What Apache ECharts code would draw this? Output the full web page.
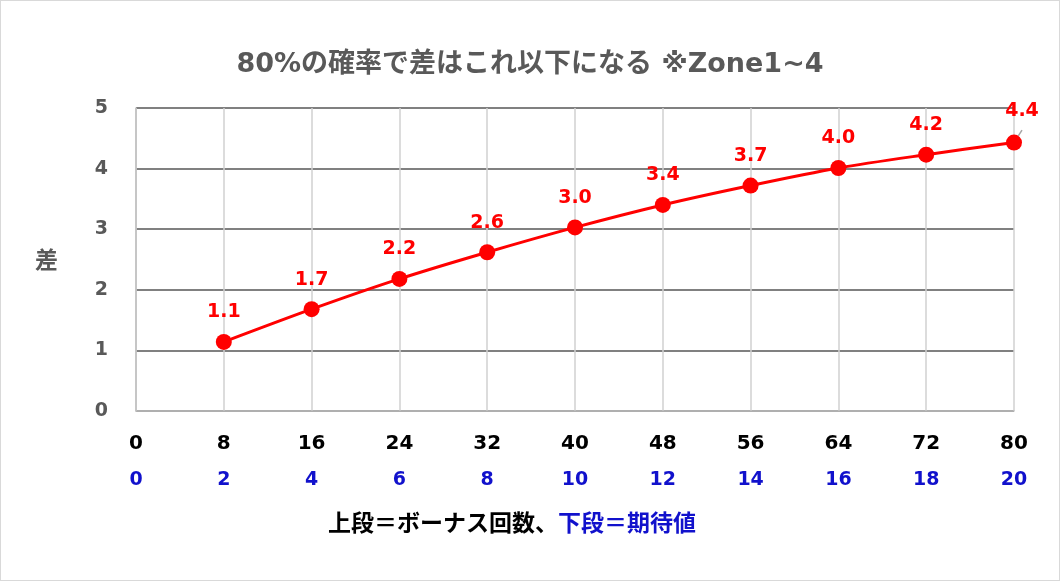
<!DOCTYPE html>
<html>
<head>
<meta charset="utf-8">
<script src="https://cdn.jsdelivr.net/npm/echarts@6/dist/echarts.min.js"></script>
<style>
html,body{margin:0;padding:0;background:#fff;}
#chart{width:1058px;height:579px;border:1px solid #d9d9d9;}
</style>
</head>
<body>
<div id="chart"></div>
<script>
const bonusCounts = [8, 16, 24, 32, 40, 48, 56, 64, 72, 80];
const diffValues = [1.14, 1.68, 2.18, 2.62, 3.03, 3.40, 3.72, 4.01, 4.23, 4.43];
const upperTicks = [0, 8, 16, 24, 32, 40, 48, 56, 64, 72, 80];
const lowerTicks = [0, 2, 4, 6, 8, 10, 12, 14, 16, 18, 20];
const yTicks = [0, 1, 2, 3, 4, 5];

const FONT = '"DejaVu Sans", "Noto Sans CJK JP", sans-serif';
const JFONT = '"Noto Sans CJK JP", "DejaVu Sans", sans-serif';
const chart = echarts.init(document.getElementById('chart'));

const seriesData = bonusCounts.map((x, i) => {
  const item = { value: [x, diffValues[i]] };
  if (i === bonusCounts.length - 1) {
    item.label = { offset: [8, -2] };
    item.labelLine = { show: true, lineStyle: { color: '#a6a6a6', width: 1.5 } };
  }
  return item;
});

chart.setOption({
  animation: false,
  textStyle: { fontFamily: FONT },
  title: {
    text: '80%の確率で差はこれ以下になる ※Zone1~4',
    left: 'center',
    top: 45,
    textStyle: { fontFamily: FONT, fontSize: 27, fontWeight: 'bold', color: '#595959' }
  },
  grid: { left: 135, right: 45, top: 107, bottom: 169 },
  xAxis: {
    type: 'value',
    min: 0, max: 80, interval: 8,
    axisLine: { show: true, lineStyle: { color: '#bfbfbf', width: 1.5 } },
    axisTick: { show: false },
    splitLine: { show: true, lineStyle: { color: '#d0d0d0', width: 1.5 } },
    axisLabel: {
      margin: 15,
      formatter: v => {
        const i = upperTicks.indexOf(v);
        return '{a|' + upperTicks[i] + '}\n{b|' + lowerTicks[i] + '}';
      },
      rich: {
        a: { fontFamily: FONT, fontSize: 20, fontWeight: 'bold', color: '#000', lineHeight: 36 },
        b: { fontFamily: FONT, fontSize: 19, fontWeight: 'bold', color: '#1111cc', lineHeight: 36 }
      }
    }
  },
  yAxis: {
    type: 'value',
    min: 0, max: 5, interval: 1,
    name: '差',
    nameLocation: 'middle',
    nameRotate: 0,
    nameGap: 78,
    nameTextStyle: { fontFamily: JFONT, fontSize: 23, fontWeight: 'bold', color: '#595959' },
    axisLine: { show: true, lineStyle: { color: '#bfbfbf', width: 1.5 } },
    axisTick: { show: false },
    splitLine: { show: true, lineStyle: { color: '#808080', width: 2 } },
    axisLabel: {
      margin: 28,
      formatter: v => String(yTicks[yTicks.indexOf(v)]),
      fontFamily: FONT, fontSize: 19, fontWeight: 'bold', color: '#595959'
    }
  },
  graphic: [{
    type: 'text',
    left: 327,
    top: 510,
    style: {
      text: '{k|上段＝ボーナス回数、}{bl|下段＝期待値}',
      rich: {
        k: { fontFamily: JFONT, fontSize: 23, fontWeight: 'bold', fill: '#000' },
        bl: { fontFamily: JFONT, fontSize: 23, fontWeight: 'bold', fill: '#1111cc' }
      }
    }
  }],
  series: [{
    type: 'line',
    data: seriesData,
    smooth: 0.3,
    symbol: 'circle',
    symbolSize: 16,
    lineStyle: { color: '#ff0000', width: 3 },
    itemStyle: { color: '#ff0000' },
    label: {
      show: true,
      position: 'top',
      distance: 12,
      formatter: p => p.value[1].toFixed(1),
      fontFamily: FONT, fontSize: 19, fontWeight: 'bold', color: '#ff0000'
    },
    z: 5
  }]
});
</script>
</body>
</html>
